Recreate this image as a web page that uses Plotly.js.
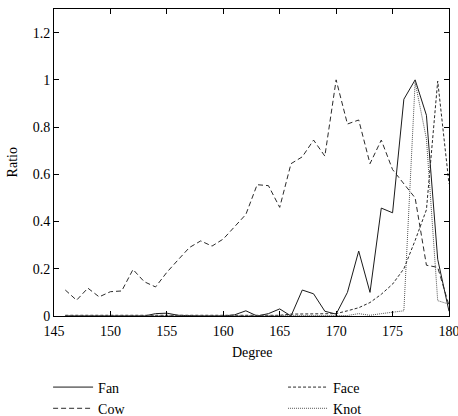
<!DOCTYPE html>
<html>
<head>
<meta charset="utf-8">
<script src="https://cdn.plot.ly/plotly-3.0.1.min.js"></script>
<style>html,body{margin:0;padding:0;background:#fff}#chart{width:458px;height:416px}</style>
</head>
<body>
<div id="chart"></div>
<script>
var degrees = [146,147,148,149,150,151,152,153,154,155,156,157,158,159,160,161,162,163,164,165,166,167,168,169,170,171,172,173,174,175,176,177,178,179,180];
var fan  = [0,0,0,0,0,0,0,0,0.01,0.012,0.003,0,0,0,0,0.005,0.022,0,0.01,0.03,0,0.11,0.094,0.02,0.008,0.1,0.275,0.1,0.457,0.437,0.918,1.0,0.85,0.24,0.02];
var cow  = [0.11,0.067,0.118,0.081,0.103,0.106,0.197,0.145,0.123,0.185,0.238,0.29,0.318,0.296,0.326,0.38,0.43,0.556,0.552,0.46,0.645,0.674,0.745,0.677,1.0,0.813,0.83,0.645,0.745,0.62,0.56,0.5,0.215,0.206,0.045];
var face = [0.003,0.003,0.003,0.003,0.003,0.003,0.003,0.003,0.003,0.003,0.003,0.003,0.003,0.003,0.003,0.003,0.003,0.003,0.003,0.003,0.008,0.008,0.008,0.008,0.01,0.022,0.035,0.057,0.092,0.135,0.2,0.32,0.45,0.995,0.56];
var knot = [0.002,0.002,0.002,0.002,0.002,0.002,0.002,0.002,0.002,0.002,0.002,0.002,0.002,0.002,0.002,0.002,0.002,0.002,0.002,0.002,0.002,0.002,0.002,0.002,0.002,0.002,0.01,0.003,0.01,0.015,0.022,0.99,0.75,0.065,0.05];
var xTicks = [145,150,155,160,165,170,175,180];
var yTicks = [0,0.2,0.4,0.6,0.8,1,1.2];
var yTickText = ['0','0.2','0.4','0.6','0.8','1','1.2'];
var xTitle = 'Degree';
var yTitle = 'Ratio';

var FONT = 'Liberation Serif, Times New Roman, serif';
function tr(name, y, dash, color, leg) {
  return {x: degrees, y: y, name: name, type: 'scatter', mode: 'lines', legend: leg,
          line: {color: color, width: 1, dash: dash}};
}
var data = [
  tr('Fan', fan, 'solid', '#1a1a1a', 'legend'),
  tr('Cow', cow, '5px,3px', '#2a2a2a', 'legend'),
  tr('Face', face, '3px,2px', '#2a2a2a', 'legend2'),
  tr('Knot', knot, '1px,1px', '#555555', 'legend2')
];
var axisCommon = {
  showline: true, linecolor: '#000', linewidth: 1, mirror: 'ticks',
  ticks: 'inside', ticklen: 5, tickcolor: '#000', tickwidth: 1,
  showgrid: false, zeroline: false, automargin: false,
  ticklabeloverflow: 'allow',
  tickfont: {family: FONT, size: 14, color: '#000'}
};
function legendAt(x) {
  return {
    orientation: 'v', xref: 'container', yref: 'container',
    x: x, xanchor: 'left', y: 0.107, yanchor: 'top',
    traceorder: 'normal', itemwidth: 40,
    font: {family: FONT, size: 14, color: '#000'},
    bgcolor: 'rgba(0,0,0,0)', tracegroupgap: 0
  };
}
var layout = {
  width: 458, height: 416,
  margin: {l: 54, r: 9, t: 9, b: 100, autoexpand: false},
  paper_bgcolor: '#fff', plot_bgcolor: '#fff',
  font: {family: FONT, size: 14, color: '#000'},
  xaxis: Object.assign({}, axisCommon, {
    range: [145, 180], tickmode: 'array', tickvals: xTicks, ticklabelstandoff: 2
  }),
  yaxis: Object.assign({}, axisCommon, {
    range: [0, 1.3], tickmode: 'array', tickvals: yTicks, ticktext: yTickText
  }),
  annotations: [
    {text: xTitle, xref: 'paper', yref: 'paper', x: 0.5, y: -0.12,
     xanchor: 'center', yanchor: 'middle', showarrow: false,
     font: {family: FONT, size: 14, color: '#000'}},
    {text: yTitle, xref: 'paper', yref: 'paper', x: -0.104, y: 0.5,
     xanchor: 'center', yanchor: 'middle', showarrow: false, textangle: -90,
     font: {family: FONT, size: 14, color: '#000'}}
  ],
  showlegend: true,
  legend: legendAt(0.105),
  legend2: legendAt(0.618)
};
Plotly.newPlot('chart', data, layout, {displayModeBar: false, staticPlot: true});
</script>
</body>
</html>
